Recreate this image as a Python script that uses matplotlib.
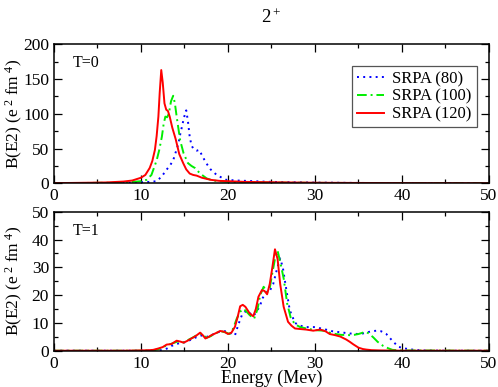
import matplotlib
matplotlib.use("Agg")
import matplotlib.pyplot as plt
from matplotlib.ticker import MultipleLocator

plt.rcParams['font.family'] = ['Liberation Serif', 'DejaVu Serif']
plt.rcParams['mathtext.fontset'] = 'custom'
plt.rcParams['mathtext.rm'] = 'Liberation Serif'
plt.rcParams['mathtext.it'] = 'Liberation Serif:italic'

# ---- Data: T=0 panel ----
E_r0 = [0, 2, 4, 6, 8, 9, 10, 10.5, 11, 11.3, 11.6, 11.8, 12.0, 12.15, 12.33, 12.5, 12.7, 12.9, 13.1, 13.3, 13.6, 14.0, 14.4, 14.85, 15.2, 15.6, 16.0, 16.4, 17, 18, 19, 20, 22, 25, 30, 35, 40, 50]
V_r0 = [0.3, 0.5, 0.8, 1.2, 2.5, 4, 8, 12, 22, 32, 48, 68, 96, 130, 163, 145, 115, 106, 104, 96, 80, 63, 42, 29, 20, 14, 12, 11, 8, 5, 3.5, 3, 2, 1.5, 0.8, 0.5, 0.3, 0.1]

E_g0 = [0, 4, 8, 9, 10, 10.65, 11.2, 11.8, 12.1, 12.4, 12.6, 12.8, 13.0, 13.2, 13.45, 13.7, 13.9, 14.1, 14.5, 14.9, 15.4, 15.8, 16.2, 16.8, 17.55, 18.3, 19, 20, 22, 25, 30, 40, 50]
V_g0 = [0.2, 0.5, 1, 2, 3, 5, 12, 33, 48, 67, 85, 96, 95, 100, 118, 126, 115, 96, 62, 43, 29, 25, 22, 14, 7, 4, 3, 2, 1.5, 1, 0.6, 0.2, 0.1]

E_b0 = [0, 5, 8, 10, 11, 11.8, 12.4, 12.9, 13.3, 13.7, 14.0, 14.3, 14.5, 14.7, 14.95, 15.2, 15.4, 15.6, 15.8, 16.0, 16.4, 16.7, 17.1, 17.5, 18.0, 18.7, 19.3, 19.8, 21, 23, 25, 30, 35, 40, 50]
V_b0 = [0.1, 0.3, 0.8, 1.5, 2, 3, 10, 19, 25, 33, 45, 57, 70, 81, 95, 105, 89, 67, 55, 50, 47, 48, 38, 29, 20, 12, 8, 5, 4, 3, 2, 1, 0.5, 0.2, 0.1]

# ---- Data: T=1 panel ----
E_r1 = [0, 8, 10, 11, 11.4, 12, 12.5, 12.95, 13.5, 14.1, 14.5, 14.9, 15.3, 15.8, 16.3, 16.8, 17.1, 17.4, 17.8, 18.1, 18.6, 19.1, 19.6, 20.0, 20.4, 20.8, 21.1, 21.4, 21.7, 22.0, 22.5, 22.9, 23.2, 23.5, 23.9, 24.2, 24.5, 24.8, 25.1, 25.4, 25.7, 26.0, 26.4, 26.9, 27.3, 27.7, 28.3, 29.0, 29.8, 30.6, 31.2, 31.7, 32.3, 32.9, 33.6, 34.0, 34.4, 35.0, 35.5, 35.9, 36.5, 37.5, 40, 50]
V_r1 = [0, 0, 0.1, 0.2, 0.3, 0.8, 1.3, 2.2, 2.4, 3.6, 3.3, 2.9, 3.5, 4.4, 5.3, 6.5, 5.6, 4.4, 5.0, 5.6, 6.3, 7.1, 6.8, 6.0, 6.5, 8.6, 12, 16.0, 16.5, 15.8, 13.4, 12.4, 15, 19.4, 21.8, 21.5, 20.3, 24, 30, 36.5, 33, 24, 15.8, 10.4, 9, 8.0, 7.8, 7.6, 7.2, 7.6, 7.0, 6.0, 5.6, 5.1, 4.0, 3.2, 2.3, 1.1, 0.6, 0.4, 0.2, 0.1, 0, 0]

E_g1 = [0, 8, 10, 11.5, 12, 12.5, 13, 13.5, 14.2, 14.6, 15, 15.5, 16, 16.5, 17, 17.5, 18, 18.5, 19.2, 19.7, 20.2, 20.6, 21.0, 21.4, 21.7, 22.0, 22.5, 23.0, 23.4, 23.7, 24.1, 24.5, 24.8, 25.1, 25.4, 25.7, 26.0, 26.4, 26.8, 27.2, 27.7, 28.3, 29, 30, 31, 32, 33, 34, 34.5, 35, 35.5, 35.8, 36.2, 36.7, 37.2, 37.8, 38.4, 38.9, 40, 50]
V_g1 = [0, 0, 0, 0.2, 0.5, 1.2, 2.0, 2.5, 3.3, 3.0, 3.0, 4.0, 4.8, 5.8, 6.2, 4.6, 5.2, 6.2, 7, 6.6, 6.0, 8, 11.5, 14, 15, 14.5, 12.8, 11.5, 15, 20, 23, 21, 22.5, 28, 33, 36, 32, 26, 17, 12, 9.5, 8.5, 8, 7.4, 7.2, 6.2, 5.7, 5.6, 5.7, 6.0, 6.5, 6.8, 6.2, 4.8, 3.2, 1.8, 0.9, 0.3, 0.1, 0]

E_b1 = [0, 8, 11, 12, 12.5, 13, 13.5, 14, 14.5, 15, 15.5, 16, 16.5, 17.1, 17.6, 18.1, 18.6, 19.0, 19.4, 19.8, 20.2, 20.8, 21.2, 21.6, 22.1, 22.5, 22.9, 23.3, 23.7, 24.0, 24.4, 24.8, 25.2, 25.6, 26.0, 26.3, 26.6, 27.1, 27.7, 28.3, 29, 30, 31, 32, 33, 34, 35, 35.5, 36, 36.5, 37.1, 37.6, 38.2, 39.0, 39.6, 40.3, 41.2, 42.3, 45, 50]
V_b1 = [0, 0, 0, 0.1, 0.3, 0.8, 1.7, 2.3, 2.8, 3.0, 3.6, 4.4, 5.0, 5.6, 5.0, 5.6, 6.3, 6.8, 7.0, 7.0, 6.5, 5.5, 9.5, 12.8, 14.4, 13.5, 12.5, 14, 16.4, 19, 21.2, 21.5, 24, 29, 33.2, 30, 24, 14.6, 10, 9, 8.5, 8.5, 7.8, 7, 6.6, 6.2, 6, 6.2, 6.6, 7, 7.2, 7, 6, 3.2, 1.4, 0.8, 0.4, 0.1, 0, 0]

labels = ["SRPA (80)", "SRPA (100)", "SRPA (120)"]
panel_labels = ["T=0", "T=1"]
x_ticks = [0, 10, 20, 30, 40, 50]

fig = plt.figure(figsize=(4.98, 3.87), dpi=100)
ax1 = fig.add_axes([0.1084, 0.5264, 0.8735, 0.359])
ax2 = fig.add_axes([0.1084, 0.0938, 0.8735, 0.359])

blue, green, red = '#0000ff', '#00ee00', '#ff0000'

for ax, (Eb, Vb, Eg, Vg, Er, Vr) in zip(
        [ax1, ax2],
        [(E_b0, V_b0, E_g0, V_g0, E_r0, V_r0), (E_b1, V_b1, E_g1, V_g1, E_r1, V_r1)]):
    ax.plot(Eb, Vb, color=blue, lw=1.4, ls=(0, (1, 2.2)), label=labels[0])
    ax.plot(Eg, Vg, color=green, lw=1.4, ls=(0, (5, 2, 1, 2)), label=labels[1])
    ax.plot(Er, Vr, color=red, lw=1.4, ls='-', label=labels[2])
    ax.set_xlim(0, 50)
    ax.set_xticks(x_ticks)
    ax.xaxis.set_minor_locator(MultipleLocator(5))
    ax.tick_params(which='both', direction='in', top=True, right=True, labelsize=12.5, width=0.9)
    ax.tick_params(which='major', length=6)
    ax.tick_params(which='minor', length=3)
    for s in ax.spines.values():
        s.set_linewidth(1.1)
    ax.set_ylabel(r"B(E2) (e$^{\ 2}$ fm$^{\ 4}$)", fontsize=12.5)
    ax.yaxis.set_label_coords(-0.066, 0.5)

ax1.set_ylim(0, 200)
ax1.yaxis.set_major_locator(MultipleLocator(50))
ax1.yaxis.set_minor_locator(MultipleLocator(25))
ax2.set_ylim(0, 50)
ax2.yaxis.set_major_locator(MultipleLocator(10))
ax2.yaxis.set_minor_locator(MultipleLocator(5))

ax1.text(0.043, 0.865, panel_labels[0], transform=ax1.transAxes, fontsize=11.5, va='center')
ax2.text(0.043, 0.865, panel_labels[1], transform=ax2.transAxes, fontsize=11.5, va='center')

leg = ax1.legend(loc='upper right', bbox_to_anchor=(0.972, 0.844), fontsize=12,
                 frameon=True, fancybox=False, edgecolor='#555555', framealpha=1,
                 handlelength=1.6, handletextpad=0.5, borderpad=0.3, labelspacing=0.1,
                 borderaxespad=0)
leg.get_frame().set_linewidth(0.9)

ax2.set_xlabel("Energy (Mev)", fontsize=13, labelpad=-1)
fig.text(0.545, 0.955, r"2$^+$", fontsize=13.5, ha='center', va='center')

fig.savefig("out.png", dpi=100)
